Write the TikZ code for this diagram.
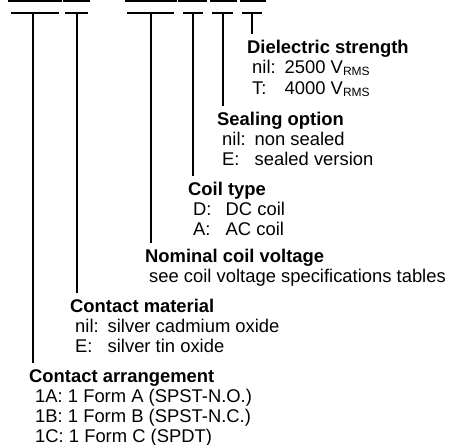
\documentclass[tikz,border=0pt]{standalone}
\usepackage{fontspec}
\setmainfont{Liberation Sans}
\newcommand{\rms}{\raisebox{-0.3ex}{\fontsize{12}{12}\selectfont RMS}}
\newcommand{\opt}[1]{\hspace*{5pt}\makebox[32.5pt][l]{#1}}
\begin{document}
\begin{tikzpicture}[x=1pt,y=-1pt,
  grp/.style={anchor=base west,inner sep=0pt,align=left,
    font=\fontsize{18.4}{20}\selectfont},
  tee/.style={line width=2pt},
  lead/.style={line width=2pt}]
  \useasboundingbox (0,0) rectangle (456,445);
  % underline of the type code
  \foreach \a/\b in {8/62,63/90,125/177,178/207,210/237,240/266}
    \draw[line width=1.3pt] (\a,1) -- (\b,1);
  % option groups (placed at the baseline of their last line)
  \node[grp] (dielec) at (247,94) {\textbf{Dielectric strength}\\
    \opt{nil:}2500 V\rms\\[1pt]
    \opt{T:}4000 V\rms};
  \node[grp] (seal) at (217,165) {\textbf{Sealing option}\\
    \opt{nil:}non sealed\\
    \opt{E:}sealed version};
  \node[grp] (coil) at (188,235) {\textbf{Coil type}\\
    \opt{D:}DC coil\\
    \opt{A:}AC coil};
  \node[grp] (volt) at (145,282) {\textbf{Nominal coil voltage}\\
    \hspace*{4pt}see coil voltage specifications tables};
  \node[grp] (mat) at (70,352) {\textbf{Contact material}\\
    \opt{nil:}silver cadmium oxide\\
    \opt{E:}silver tin oxide};
  \node[grp] (arr) at (29,442) {\textbf{Contact arrangement}\\
    \hspace*{6pt}1A: 1 Form A (SPST-N.O.)\\
    \hspace*{6pt}1B: 1 Form B (SPST-N.C.)\\
    \hspace*{6pt}1C: 1 Form C (SPDT)};
  % tee marks under the code
  \foreach \a/\s/\b/\n in {11/33/59/s1,65/77/88/s2,127/151/174/s3,
      183/193/203/s4,212/223/233/s5,242/252/262/s6} {
    \draw[tee] (\a,12.7) -- (\b,12.7);
    \coordinate (\n) at (\s,12.7);
  }
  % leads down to the groups
  \draw[lead] (s1) -- ([yshift=79pt]arr.base -| s1);
  \draw[lead] (s2) -- ([yshift=59pt]mat.base -| s2);
  \draw[lead] (s3) -- ([yshift=39pt]volt.base -| s3);
  \draw[lead] (s4) -- ([yshift=59pt]coil.base -| s4);
  \draw[lead] (s5) -- ([yshift=59pt]seal.base -| s5);
  \draw[lead] (s6) -- ([yshift=60pt]dielec.base -| s6);
\end{tikzpicture}
\end{document}
